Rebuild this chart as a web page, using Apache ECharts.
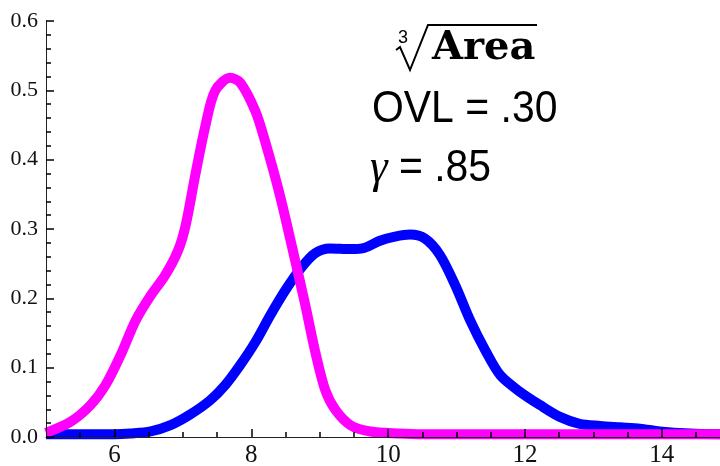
<!DOCTYPE html>
<html>
<head>
<meta charset="utf-8">
<script src="https://cdn.jsdelivr.net/npm/echarts@6/dist/echarts.min.js"></script>
<style>
  html, body { margin: 0; padding: 0; background: #fff; }
  #chart { width: 720px; height: 466px; }
</style>
</head>
<body>
<div id="chart"></div>
<script>
// blue curve
var blueX = [5.0, 5.5, 6.0, 6.23, 6.53, 6.82, 7.1, 7.4, 7.62, 7.84, 8.06, 8.28, 8.5, 8.72, 8.93, 9.15, 9.45, 9.66, 9.88, 10.1, 10.32, 10.54, 10.76, 10.98, 11.2, 11.42, 11.64, 11.93, 12.22, 12.51, 12.8, 13.1, 13.39, 13.68, 13.97, 14.41, 14.85]
var blueY = [0.004, 0.004, 0.004, 0.005, 0.008, 0.017, 0.032, 0.053, 0.075, 0.104, 0.137, 0.176, 0.212, 0.243, 0.265, 0.272, 0.271, 0.273, 0.283, 0.289, 0.292, 0.286, 0.262, 0.219, 0.168, 0.125, 0.089, 0.065, 0.046, 0.029, 0.019, 0.016, 0.014, 0.012, 0.008, 0.005, 0.004]
// magenta curve
var pinkX = [5.0, 5.36, 5.65, 5.87, 6.09, 6.31, 6.53, 6.74, 6.93, 7.04, 7.18, 7.33, 7.47, 7.69, 7.84, 8.06, 8.2, 8.42, 8.64, 8.79, 8.93, 9.08, 9.23, 9.45, 9.74, 10.17, 10.5, 11, 12, 13, 14, 14.85]
var pinkY = [0.006, 0.022, 0.046, 0.075, 0.118, 0.168, 0.204, 0.233, 0.269, 0.305, 0.377, 0.449, 0.499, 0.518, 0.511, 0.47, 0.427, 0.348, 0.255, 0.19, 0.125, 0.068, 0.039, 0.017, 0.008, 0.005, 0.004, 0.004, 0.004, 0.004, 0.004, 0.004]

var xLabels = [6, 8, 10, 12, 14]
var xMinor = [5.5, 6.5, 7, 7.5, 8.5, 9, 9.5, 10.5, 11, 11.5, 12.5, 13, 13.5, 14.5]

function pairs(xs, ys) {
  return xs.map(function (x, i) { return [x, ys[i]] })
}

var myChart = echarts.init(document.getElementById('chart'))
var serif = '"Liberation Serif", "Times New Roman", serif'
var sans = '"Liberation Sans", sans-serif'
var tickColor = '#000'

var option = {
  animation: false,
  grid: { left: 46, right: 0, top: 21, bottom: 29, outerBoundsMode: 'none', containLabel: false },
  xAxis: [
    {
      type: 'value',
      min: 5,
      max: 14.85,
      z: 5,
      axisLine: { onZero: false, lineStyle: { color: '#222', width: 1 } },
      axisTick: { show: true, inside: true, length: 8, customValues: xLabels, lineStyle: { color: tickColor, width: 1.5 } },
      axisLabel: { customValues: xLabels, color: '#111', fontFamily: serif, fontSize: 25, margin: 6 },
      splitLine: { show: false }
    },
    {
      type: 'value',
      min: 5,
      max: 14.85,
      position: 'bottom',
      z: 5,
      axisLine: { show: false },
      axisTick: { show: true, inside: true, length: 5, customValues: xMinor, lineStyle: { color: tickColor, width: 1.5 } },
      axisLabel: { show: false },
      splitLine: { show: false }
    }
  ],
  yAxis: {
    type: 'value',
    min: 0,
    max: 0.6,
    interval: 0.1,
    z: 5,
    axisLine: { show: true, lineStyle: { color: '#222', width: 1 } },
    axisTick: { show: true, inside: true, length: 8, lineStyle: { color: tickColor, width: 1.5 } },
    minorTick: { show: true, splitNumber: 5, length: 5, lineStyle: { color: tickColor, width: 1.5 } },
    axisLabel: {
      color: '#111', fontFamily: serif, fontSize: 22, margin: 8,
      formatter: function (v) { return v.toFixed(1) }
    },
    splitLine: { show: false }
  },
  series: [
    {
      type: 'line',
      data: pairs(blueX, blueY),
      smooth: 0.3,
      showSymbol: false,
      clip: true,
      lineStyle: { color: '#0000ff', width: 10 }
    },
    {
      type: 'line',
      data: pairs(pinkX, pinkY),
      smooth: 0.3,
      showSymbol: false,
      clip: true,
      lineStyle: { color: '#ff00ff', width: 10 }
    }
  ],
  graphic: [
    // cube root sign
    { type: 'polyline', shape: { points: [[396, 50], [400, 47], [410, 70], [428, 25], [537, 25]] }, style: { stroke: '#000', lineWidth: 2, fill: null } },
    { type: 'text', left: 398, top: 29, style: { text: '3', font: '18px ' + sans, fill: '#000' } },
    { type: 'text', left: 432, top: 29, style: { text: 'Area', font: 'bold 40px "DejaVu Serif", serif', fill: '#000' } },
    { type: 'text', left: 372, top: 88, scaleX: 0.93, style: { text: 'OVL = .30', font: '44px ' + sans, fill: '#000' } },
    {
      type: 'text', left: 370, top: 145, scaleX: 0.93,
      style: {
        text: '{g|γ} = .85',
        font: '44px ' + sans,
        fill: '#000',
        rich: { g: { fontFamily: serif, fontStyle: 'italic', fontSize: 48 } }
      }
    }
  ]
}

myChart.setOption(option)
window.onresize = function () { myChart.resize() }
</script>
</body>
</html>
